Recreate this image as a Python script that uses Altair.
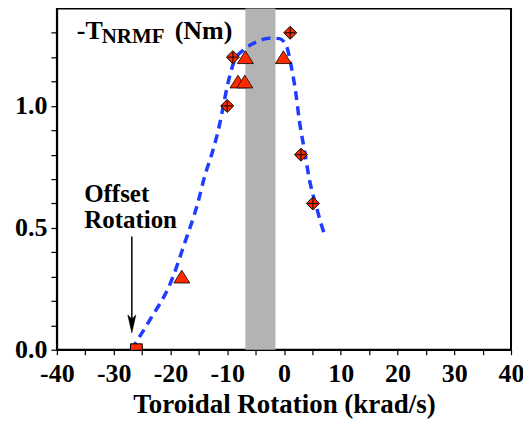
import altair as alt
import pandas as pd

# ---- data ----
curve_x = [-26.9, -23.6, -20.0, -17.5, -15.2, -14.0, -12.5, -11.3, -10.5, -9.6, -8.7, -7.2,
           -4.9, -2.5, -0.8, 0.4, 1.3, 2.1, 2.7, 3.6, 4.5, 5.7, 7.1, 7.4]
curve_y = [0.0, 0.123, 0.273, 0.437, 0.60, 0.709, 0.819, 0.928, 1.023, 1.119, 1.187, 1.228,
           1.262, 1.278, 1.276, 1.248, 1.160, 1.051, 0.941, 0.819, 0.696, 0.587, 0.478, 0.463]

diamond_x = [1.1, -9.0, -10.0, 3.0, 5.1]
diamond_y = [1.3, 1.2, 1.0, 0.8, 0.6]

triangle_x = [-6.8, -0.1, -8.1, -6.9, -18.0]
triangle_y = [1.2, 1.2, 1.1, 1.1, 0.3]

square_x = [-26.0]
square_y = [0.0]

band_x = [-6.8]
band_x2 = [-1.5]

arrow_x = [-26.8]
arrow_top = [0.464]
arrow_bottom = [0.10]
arrow_head_y = [0.106]

x_ticks = [-40, -35, -30, -25, -20, -15, -10, -5, 0, 5, 10, 15, 20, 25, 30, 35, 40]
y_ticks = [0.0, 0.1, 0.2, 0.3, 0.4, 0.5, 0.6, 0.7, 0.8, 0.9, 1.0, 1.1, 1.2, 1.3]

FONT = "Liberation Serif"
RED = "#ff2a00"
BLUE = "#1f3cff"

xscale = alt.Scale(domain=[-40, 40], nice=False, zero=False)
yscale = alt.Scale(domain=[0, 1.4], nice=False, zero=False)

xaxis = alt.Axis(values=x_ticks, labelExpr="datum.value % 10 == 0 ? '' + datum.value : ''",
                 title="Toroidal Rotation (krad/s)", grid=False, tickSize=5, labelPadding=6,
                 titleY=63, titleBaseline="alphabetic", labelFlush=False, labelOverlap=False)
yaxis = alt.Axis(values=y_ticks,
                 labelExpr="(round(datum.value*10) % 5 == 0) ? format(datum.value, '.1f') : ''",
                 title=None, grid=False, tickSize=6, labelPadding=4, labelOverlap=False)

X = alt.X("x:Q", scale=xscale, axis=xaxis)
Y = alt.Y("y:Q", scale=yscale, axis=yaxis)

band_df = pd.DataFrame({"x": band_x, "x2": band_x2, "y": [0.0], "y2": [1.4]})
band = alt.Chart(band_df).mark_rect(color="#b3b3b3").encode(x=X, x2="x2:Q", y=Y, y2="y2:Q")

curve_df = pd.DataFrame({"x": curve_x, "y": curve_y, "o": list(range(len(curve_x)))})
curve = alt.Chart(curve_df).mark_line(color=BLUE, strokeWidth=3.5, strokeDash=[9, 6],
                                      interpolate="monotone").encode(x=X, y=Y, order="o:Q")

dia_df = pd.DataFrame({"x": diamond_x, "y": diamond_y})
diamonds = alt.Chart(dia_df).mark_point(shape="diamond", filled=True, fill=RED, stroke="black",
                                        strokeWidth=1, size=170, opacity=1).encode(x=X, y=Y)
crosses = alt.Chart(dia_df).mark_point(shape="M-0.8,0H0.8M0,-0.8V0.8", filled=False,
                                       stroke="black", strokeWidth=1, size=170,
                                       opacity=1).encode(x=X, y=Y)

tri_df = pd.DataFrame({"x": triangle_x, "y": triangle_y})
triangles = alt.Chart(tri_df).mark_point(shape="M0,-0.8L1,0.8L-1,0.8Z", filled=True, fill=RED,
                                         stroke="black", strokeWidth=0.8, size=256,
                                         opacity=1).encode(x=X, y=Y)

sq_df = pd.DataFrame({"x": square_x, "y": square_y})
square = alt.Chart(sq_df).mark_point(shape="square", filled=True, fill=RED, stroke="black",
                                     strokeWidth=1, size=140, opacity=1,
                                     clip=True).encode(x=X, y=Y)

arr_df = pd.DataFrame({"x": arrow_x, "y": arrow_top, "y2": arrow_bottom})
arrow_line = alt.Chart(arr_df).mark_rule(color="black", strokeWidth=1.5).encode(x=X, y=Y, y2="y2:Q")
head_df = pd.DataFrame({"x": arrow_x, "y": arrow_head_y})
arrow_head = alt.Chart(head_df).mark_point(shape="M0,1L-0.45,-1L0,-0.55L0.45,-1Z", filled=True,
                                           fill="black", stroke="black", strokeWidth=0.5,
                                           size=324, opacity=1).encode(x=X, y=Y)

ann_df = pd.DataFrame({"x": [-35.2, -35.2], "y": [0.607, 0.498], "t": ["Offset", "Rotation"]})
ann = alt.Chart(ann_df).mark_text(align="left", baseline="alphabetic", font=FONT,
                                  fontWeight="bold", fontSize=25, color="black").encode(
    x=X, y=Y, text="t:N")

title_main = pd.DataFrame({"x": [-36.5, -19.25], "y": [1.276, 1.276], "t": ["-T", "(Nm)"]})
tmain = alt.Chart(title_main).mark_text(align="left", baseline="alphabetic", font=FONT,
                                        fontWeight="bold", fontSize=26, color="black").encode(
    x=X, y=Y, text="t:N")
title_sub = pd.DataFrame({"x": [-32.1], "y": [1.26], "t": ["NRMF"]})
tsub = alt.Chart(title_sub).mark_text(align="left", baseline="alphabetic", font=FONT,
                                      fontWeight="bold", fontSize=21, color="black").encode(
    x=X, y=Y, text="t:N")

chart = alt.layer(band, curve, arrow_line, arrow_head, diamonds, crosses, triangles, square,
                  ann, tmain, tsub).properties(
    width=455, height=342, autosize=alt.AutoSizeParams(type="none"),
    padding={"left": 49, "top": 0, "right": 12, "bottom": 71}, background="white"
).configure_view(stroke="black", strokeWidth=2).configure_axis(
    domainColor="black", domainWidth=1.5, tickColor="black", tickWidth=1.2,
    labelFont=FONT, labelFontWeight="bold", labelFontSize=26, labelColor="black",
    titleFont=FONT, titleFontWeight="bold", titleFontSize=27, titleColor="black"
)

chart.save("out.html", embed_options={"renderer": "svg", "actions": False})
